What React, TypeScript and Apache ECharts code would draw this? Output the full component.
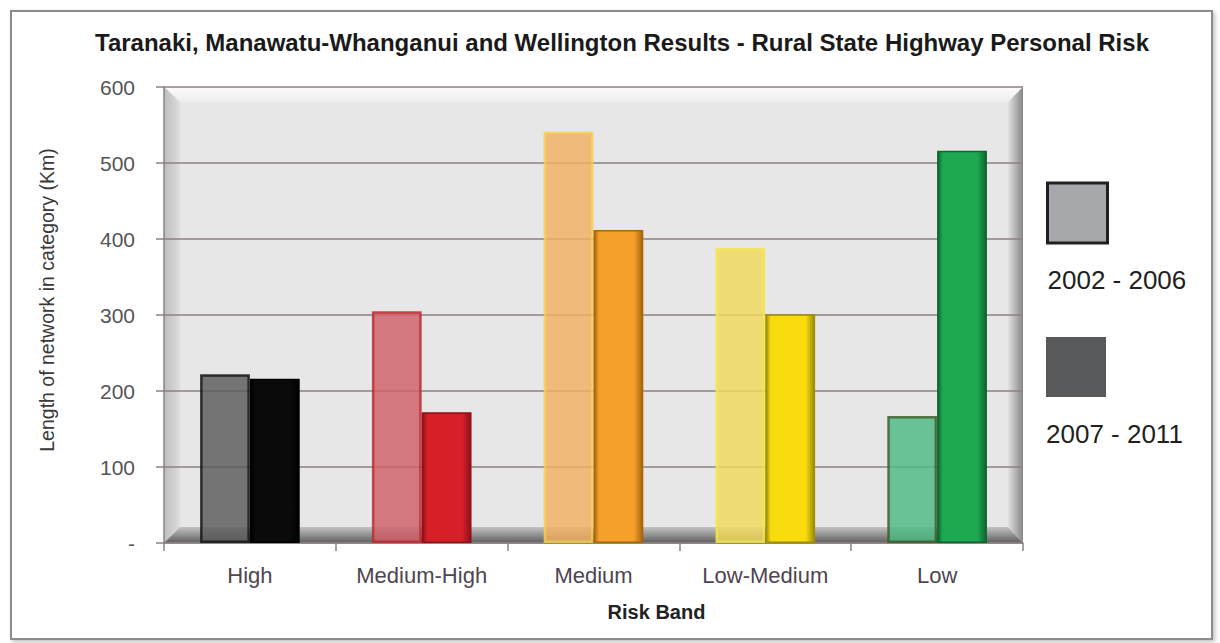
import React, { useEffect, useRef } from "react";
import * as echarts from "echarts";

const categories = ["High", "Medium-High", "Medium", "Low-Medium", "Low"];
const values2002 = [222, 305, 541, 388, 167];
const values2007 = [216, 172, 412, 301, 516];
const seriesNames = ["2002 - 2006", "2007 - 2011"];
const yMin = 0;
const yMax = 600;
const yInterval = 100;

const fill2002 = ["#5a5a5a", "#cf5f69", "#f1b061", "#f2d95c", "#4db982"];
const border2002 = ["#111111", "#c0272d", "#f7d04d", "#f3e64a", "#3b5b25"];
const fill2007 = ["#0a0a0a", "#d71f28", "#f5a02a", "#f8dc0e", "#1da851"];
const edge2007 = ["#000000", "#8c1218", "#a8640e", "#a08c08", "#0e6530"];

function grad(base: string, edge: string) {
  return new echarts.graphic.LinearGradient(0, 0, 1, 0, [
    { offset: 0, color: edge },
    { offset: 0.1, color: base },
    { offset: 0.82, color: base },
    { offset: 1, color: edge },
  ]);
}

const LEGEND_LINE = 67;

function legendFor(name: string, itemStyle: any, iconTop: number) {
  return {
    data: [{ name, icon: "rect", itemStyle }],
    left: 1046,
    top: iconTop - (1.5 * LEGEND_LINE - 30),
    padding: 0,
    itemWidth: 60,
    itemHeight: 60,
    selectedMode: false,
    formatter: (n: string) => "\n\n" + n,
    textStyle: {
      fontFamily: "Liberation Sans",
      fontSize: 26,
      lineHeight: LEGEND_LINE,
      color: "#231f20",
      padding: [0, 0, 0, -65],
    },
  };
}

export default function App() {
  const ref = useRef<HTMLDivElement>(null);
  useEffect(() => {
    document.body.style.margin = "0";
    const chart = echarts.init(ref.current!, null, { renderer: "svg" });
    const L = 164, R = 1023, T = 87, B = 543;
    const option: any = {
      animation: false,
      backgroundColor: "#ffffff",
      title: {
        text: "Taranaki, Manawatu-Whanganui and Wellington Results - Rural State Highway Personal Risk",
        left: 617,
        textAlign: "center",
        top: 25,
        textStyle: {
          fontFamily: "Liberation Sans",
          fontWeight: "bold",
          fontSize: 24,
          color: "#1a1a1a",
        },
      },
      legend: [
        legendFor(seriesNames[0], { color: "#a7a8ab", borderColor: "#231f20", borderWidth: 3 }, 183),
        legendFor(seriesNames[1], { color: "#58595b", borderWidth: 0 }, 337),
      ],
      grid: { left: L, right: 1220 - R, top: T, bottom: 643 - B, containLabel: false },
      xAxis: {
        type: "category",
        data: categories,
        name: "Risk Band",
        nameLocation: "middle",
        nameGap: 59,
        nameTextStyle: {
          fontFamily: "Liberation Sans",
          fontWeight: "bold",
          fontSize: 20,
          color: "#222",
          padding: [0, 0, 0, 126],
        },
        axisLine: { lineStyle: { color: "#8a8282", width: 1.5 } },
        axisTick: { show: true, length: 8, lineStyle: { color: "#8a8282", width: 1.5 } },
        axisLabel: {
          margin: 21,
          fontFamily: "Liberation Sans",
          fontSize: 22,
          color: "#4d4550",
        },
      },
      yAxis: {
        type: "value",
        min: yMin,
        max: yMax,
        interval: yInterval,
        name: "Length of network in category (Km)",
        nameLocation: "middle",
        nameGap: 107,
        nameRotate: 90,
        nameTextStyle: {
          fontFamily: "Liberation Sans",
          fontSize: 19.5,
          color: "#3a3a3a",
          padding: [0, 0, 0, 30],
        },
        axisLine: { show: true, lineStyle: { color: "#8a8282", width: 1.5 } },
        axisTick: { show: true, length: 8, lineStyle: { color: "#8a8282", width: 1.5 } },
        splitLine: { show: true, lineStyle: { color: "#8a8282", width: 1.5 } },
        axisLabel: {
          margin: 29,
          fontFamily: "Liberation Sans",
          fontSize: 21,
          color: "#555555",
          formatter: (v: number) => (v === 0 ? "-" : String(v)),
        },
      },
      graphic: [
        {
          type: "rect",
          z: -20,
          shape: { x: 11, y: 11, width: 1201, height: 628 },
          style: {
            fill: "#ffffff",
            stroke: "#8c8c8c",
            lineWidth: 2,
            shadowBlur: 4,
            shadowOffsetX: 2,
            shadowOffsetY: 2,
            shadowColor: "rgba(0,0,0,0.25)",
          },
        },
        {
          type: "rect",
          z: -10,
          shape: { x: L, y: T, width: R - L, height: B - T },
          style: { fill: "#e7e7e7" },
        },
        {
          type: "polygon",
          z: -9,
          shape: { points: [[L, T], [R, T], [R - 15, T + 15], [L + 16, T + 15]] },
          style: {
            fill: new echarts.graphic.LinearGradient(0, 0, 0, 1, [
              { offset: 0, color: "#fbfbfb" },
              { offset: 1, color: "#ededed" },
            ]),
          },
        },
        {
          type: "polygon",
          z: -9,
          shape: { points: [[L, T], [L + 16, T + 15], [L + 16, B - 16], [L, B]] },
          style: {
            fill: new echarts.graphic.LinearGradient(0, 0, 1, 0, [
              { offset: 0, color: "#bdbdbd" },
              { offset: 1, color: "#dedede" },
            ]),
          },
        },
        {
          type: "polygon",
          z: -9,
          shape: { points: [[R, T], [R, B], [R - 15, B - 16], [R - 15, T + 15]] },
          style: {
            fill: new echarts.graphic.LinearGradient(0, 0, 1, 0, [
              { offset: 0, color: "#e2e2e2" },
              { offset: 1, color: "#868686" },
            ]),
          },
        },
        {
          type: "polygon",
          z: -8,
          shape: { points: [[L, B], [L + 16, B - 16], [R - 15, B - 16], [R, B]] },
          style: {
            fill: new echarts.graphic.LinearGradient(0, 0, 0, 1, [
              { offset: 0, color: "#c4c4c4" },
              { offset: 1, color: "#5e5e5e" },
            ]),
          },
        },
      ],
      series: [
        {
          name: seriesNames[0],
          type: "bar",
          barGap: "0%",
          barCategoryGap: "42%",
          itemStyle: { color: "#a7a8ab" },
          data: values2002.map((v, i) => ({
            value: v,
            itemStyle: {
              color: fill2002[i],
              borderColor: border2002[i],
              borderWidth: 2.5,
              opacity: 0.82,
            },
          })),
        },
        {
          name: seriesNames[1],
          type: "bar",
          barGap: "0%",
          barCategoryGap: "42%",
          itemStyle: { color: "#58595b" },
          data: values2007.map((v, i) => ({
            value: v,
            itemStyle: {
              color: grad(fill2007[i], edge2007[i]),
              borderColor: edge2007[i],
              borderWidth: 1.5,
            },
          })),
        },
      ],
    };
    chart.setOption(option);
    return () => chart.dispose();
  }, []);
  return (
    <div
      ref={ref}
      style={{ position: "absolute", left: 0, top: 0, width: 1220, height: 643 }}
    />
  );
}
